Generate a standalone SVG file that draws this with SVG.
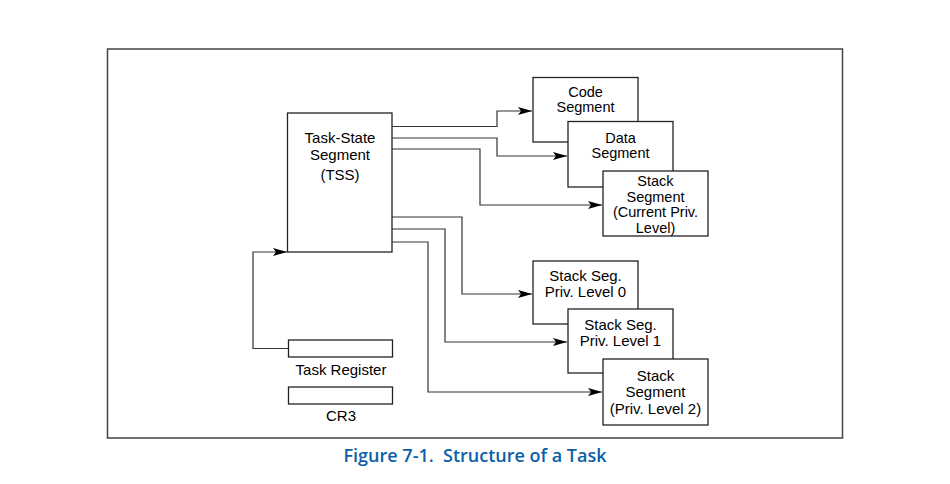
<svg xmlns="http://www.w3.org/2000/svg" width="950" height="484" viewBox="0 0 950 484">
  <defs>
    <marker id="arrow" markerWidth="14" markerHeight="8" refX="14" refY="4" orient="auto" markerUnits="userSpaceOnUse">
      <path d="M0,0 L14,4 L0,8 L3,4 Z" fill="#000"/>
    </marker>
  </defs>
  <style>
    .box { fill: #fff; stroke: #222; stroke-width: 1.3; }
    .frame { fill: #fff; stroke: #444; stroke-width: 1.5; }
    .lbl { font-family: "Liberation Sans", Arial, sans-serif; font-size: 15px; fill: #000; text-anchor: middle; }
    .tight { font-size: 14.5px; }
    .wire { fill: none; stroke: #333; stroke-width: 1.2; }
    .caption { font-family: "Open Sans", "Liberation Sans", sans-serif; font-size: 18px; font-weight: 600; fill: #0a5fa8; text-anchor: middle; }
  </style>

  <rect class="frame" x="107.5" y="49" width="735" height="389"/>

  <!-- connectors -->
  <g id="connectors">
    <polyline class="wire" points="392,126.5 497,126.5 497,111 532,111" marker-end="url(#arrow)"/>
    <polyline class="wire" points="392,138 497,138 497,156 567,156" marker-end="url(#arrow)"/>
    <polyline class="wire" points="392,149 480,149 480,205 602,205" marker-end="url(#arrow)"/>
    <polyline class="wire" points="392,217 462,217 462,294 532,294" marker-end="url(#arrow)"/>
    <polyline class="wire" points="392,229 445,229 445,342 567,342" marker-end="url(#arrow)"/>
    <polyline class="wire" points="392,242 428,242 428,392 602,392" marker-end="url(#arrow)"/>
    <polyline class="wire" points="288,348.5 253,348.5 253,252 287,252" marker-end="url(#arrow)"/>
  </g>

  <!-- Task-State Segment -->
  <g id="tss">
    <rect class="box" x="287.5" y="113" width="104.5" height="139"/>
    <text class="lbl" x="340" y="143">Task-State</text>
    <text class="lbl" x="340" y="160">Segment</text>
    <text class="lbl" x="340" y="180">(TSS)</text>
  </g>

  <!-- Task Register and CR3 -->
  <g id="task-register">
    <rect class="box" x="288.5" y="340" width="104" height="17"/>
    <text class="lbl" x="341" y="375">Task Register</text>
  </g>
  <g id="cr3">
    <rect class="box" x="288.5" y="387" width="104" height="17"/>
    <text class="lbl" x="341" y="421">CR3</text>
  </g>

  <!-- current segments -->
  <g id="code-segment">
    <rect class="box" x="533" y="77.5" width="105" height="64.5"/>
    <text class="lbl tight" x="585.5" y="96.5">Code</text>
    <text class="lbl tight" x="585.5" y="112">Segment</text>
  </g>
  <g id="data-segment">
    <rect class="box" x="568" y="121.5" width="105" height="65.5"/>
    <text class="lbl tight" x="620.5" y="142.5">Data</text>
    <text class="lbl tight" x="620.5" y="158">Segment</text>
  </g>
  <g id="stack-segment-current">
    <rect class="box" x="603" y="171" width="105" height="65"/>
    <text class="lbl tight" x="655.5" y="186">Stack</text>
    <text class="lbl tight" x="655.5" y="201.5">Segment</text>
    <text class="lbl tight" x="655.5" y="217">(Current Priv.</text>
    <text class="lbl tight" x="655.5" y="232.5">Level)</text>
  </g>

  <!-- privilege-level stacks -->
  <g id="stack-pl0">
    <rect class="box" x="533" y="261" width="105" height="63"/>
    <text class="lbl" x="585.5" y="281">Stack Seg.</text>
    <text class="lbl" x="585.5" y="297">Priv. Level 0</text>
  </g>
  <g id="stack-pl1">
    <rect class="box" x="568" y="309" width="105" height="64"/>
    <text class="lbl" x="620.5" y="330">Stack Seg.</text>
    <text class="lbl" x="620.5" y="346">Priv. Level 1</text>
  </g>
  <g id="stack-pl2">
    <rect class="box" x="603" y="359" width="105" height="66"/>
    <text class="lbl" x="655.5" y="381">Stack</text>
    <text class="lbl" x="655.5" y="397">Segment</text>
    <text class="lbl" x="655.5" y="414">(Priv. Level 2)</text>
  </g>

  <text class="caption" x="475" y="462" xml:space="preserve">Figure 7-1.  Structure of a Task</text>
</svg>
